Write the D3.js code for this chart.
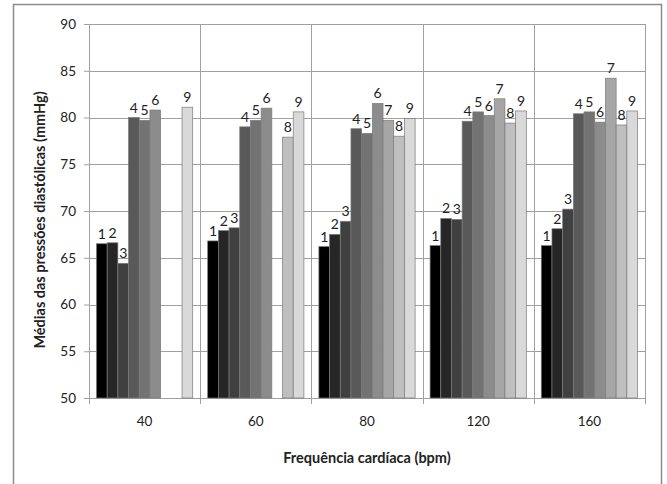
<!DOCTYPE html>
<html>
<head>
<meta charset="utf-8">
<script src="https://cdn.jsdelivr.net/npm/d3@7"></script>
<style>
  body { margin: 0; background: #fff; }
  text { font-family: Lato, "Open Sans", sans-serif; }
</style>
</head>
<body>
<div id="chart"></div>
<script>
// grupos (frequência cardíaca) e séries 1..9
let categories = ['40', '60', '80', '120', '160'];
let seriesNames = ['1', '2', '3', '4', '5', '6', '7', '8', '9'];
let s1 = [66.5, 66.8, 66.2, 66.3, 66.3];
let s2 = [66.6, 67.9, 67.5, 69.2, 68.1];
let s3 = [64.4, 68.2, 68.9, 69.1, 70.2];
let s4 = [80.0, 79.0, 78.8, 79.6, 80.4];
let s5 = [79.7, 79.7, 78.3, 80.6, 80.6];
let s6 = [80.8, 81.0, 81.5, 80.2, 79.5];
let s7 = [null, null, 79.7, 82.0, 84.2];
let s8 = [null, 77.9, 78.0, 79.4, 79.2];
let s9 = [81.1, 80.6, 79.9, 80.7, 80.7];
let yTicks = [50, 55, 60, 65, 70, 75, 80, 85, 90];
let colors = ['#000000', '#262626', '#404040', '#595959', '#737373', '#8c8c8c', '#a6a6a6', '#bfbfbf', '#d9d9d9'];

let allSeries = [s1, s2, s3, s4, s5, s6, s7, s8, s9];

let W = 667, H = 484;
let margin = { top: 24, right: 22, bottom: 86, left: 89 };
let width = W - margin.left - margin.right, height = H - margin.top - margin.bottom;

let svg = d3.select('#chart').append('svg')
  .attr('width', W).attr('height', H);

// moldura externa
svg.append('rect')
  .attr('x', 13.5).attr('y', 4.5)
  .attr('width', 648).attr('height', 490)
  .attr('fill', 'none').attr('stroke', '#8c8c8c').attr('stroke-width', 1.5);

let g = svg.append('g').attr('transform', 'translate(' + margin.left + ',' + margin.top + ')');

let y = d3.scaleLinear().domain([50, 90]).range([height, 0]);
let x0 = d3.scaleBand().domain(categories).range([0, width]).padding(0);
let x1 = d3.scaleBand().domain(seriesNames).range([0, x0.bandwidth()]).paddingInner(0).paddingOuter(0.7);

// grade horizontal
g.append('g').selectAll('line')
  .data(yTicks.slice(1))
  .enter().append('line')
  .attr('x1', 0).attr('x2', width)
  .attr('y1', d => Math.round(y(d)) + 0.5).attr('y2', d => Math.round(y(d)) + 0.5)
  .attr('stroke', '#a0a0a0');

// grade vertical nos limites dos grupos
let bounds = categories.map(c => x0(c)).concat([width]);
g.append('g').selectAll('line')
  .data(bounds)
  .enter().append('line')
  .attr('x1', d => Math.round(d) + 0.5).attr('x2', d => Math.round(d) + 0.5)
  .attr('y1', 0).attr('y2', height + 6)
  .attr('stroke', '#a0a0a0');

// eixo y
let yAxis = g.append('g')
  .call(d3.axisLeft(y).tickValues(yTicks).tickSize(5).tickPadding(8));
yAxis.select('.domain').attr('stroke', '#a0a0a0');
yAxis.selectAll('.tick line').attr('stroke', '#a0a0a0');
yAxis.selectAll('.tick text').attr('font-size', 13.5).attr('fill', '#222');

// eixo x
let xAxis = g.append('g')
  .attr('transform', 'translate(0,' + height + ')')
  .call(d3.axisBottom(x0).tickSize(0).tickPadding(18));
xAxis.select('.domain').attr('stroke', '#a0a0a0');
xAxis.selectAll('.tick text').attr('font-size', 13.5).attr('fill', '#222');

// barras
let groups = g.selectAll('.grp')
  .data(categories)
  .enter().append('g')
  .attr('class', 'grp')
  .attr('transform', d => 'translate(' + x0(d) + ',0)');

groups.each(function(cat, ci) {
  let rows = seriesNames.map((s, si) => ({ s: s, si: si, v: allSeries[si][ci] }))
    .filter(d => d.v != null);
  let gg = d3.select(this);
  gg.selectAll('rect')
    .data(rows)
    .enter().append('rect')
    .attr('x', d => x1(d.s))
    .attr('y', d => y(d.v))
    .attr('width', x1.bandwidth())
    .attr('height', d => height - y(d.v))
    .attr('fill', d => colors[d.si])
    .attr('stroke', '#7a7a7a')
    .attr('stroke-width', 0.7);
  gg.selectAll('text')
    .data(rows)
    .enter().append('text')
    .attr('x', d => x1(d.s) + x1.bandwidth() / 2)
    .attr('y', d => y(d.v) - 5)
    .attr('text-anchor', 'middle')
    .attr('font-size', 14)
    .attr('fill', '#222')
    .text(d => d.s);
});

// títulos dos eixos
svg.append('text')
  .attr('x', margin.left + width / 2).attr('y', 463)
  .attr('text-anchor', 'middle')
  .attr('font-size', 14.5).attr('font-weight', 'bold').attr('fill', '#222')
  .text('Frequência cardíaca (bpm)');

svg.append('text')
  .attr('transform', 'translate(45,' + 220 + ') rotate(-90)')
  .attr('text-anchor', 'middle')
  .attr('font-size', 14.5).attr('font-weight', 'bold').attr('fill', '#222')
  .text('Médias das pressões diastólicas (mmHg)');
</script>
</body>
</html>
